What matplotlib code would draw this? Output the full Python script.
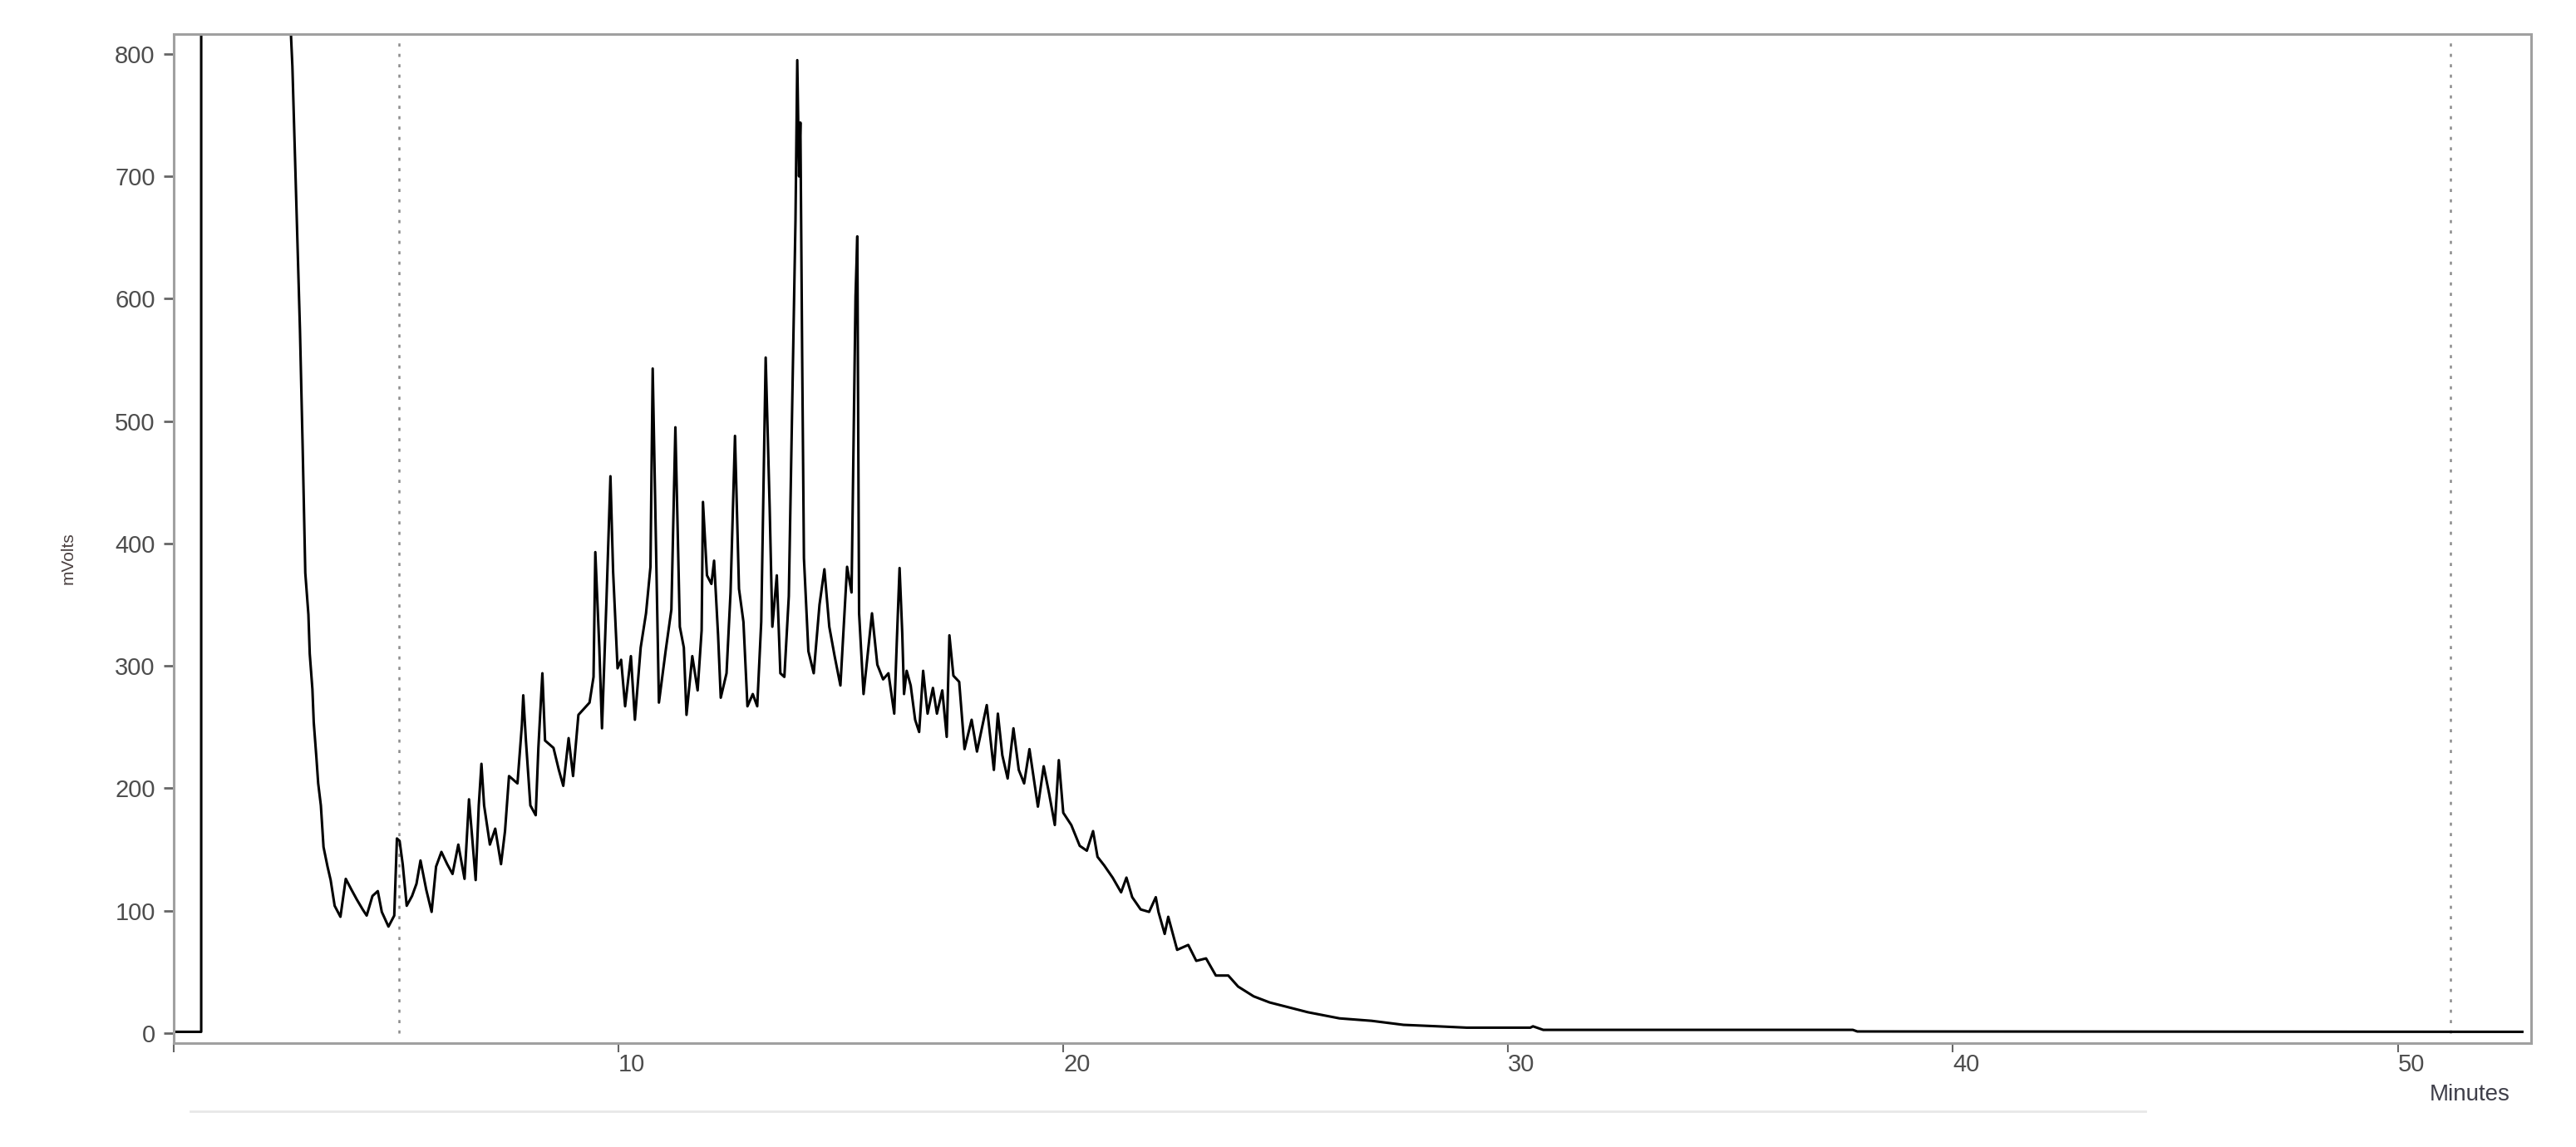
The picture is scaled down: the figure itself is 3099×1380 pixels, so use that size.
import matplotlib.pyplot as plt
import matplotlib.transforms as mtransforms
from matplotlib.lines import Line2D

# retention time (min) and detector response (mV) in segments
solvent_time = [0.0, 0.62, 0.62, 2.56, 2.62, 2.67, 2.75, 2.84, 2.90, 2.94, 2.96, 3.03, 3.06,
                3.12, 3.15, 3.21, 3.25, 3.31, 3.37, 3.46, 3.53, 3.62, 3.75]
solvent_mv = [1, 1, 1500, 1500, 830, 790, 690, 575, 480, 410, 376, 342, 310,
              281, 254, 225, 204, 186, 152, 136, 125, 104, 95]

early_time = [3.87, 4.00, 4.12, 4.25, 4.34, 4.47, 4.59, 4.68, 4.83, 4.96, 5.02, 5.08, 5.15,
              5.24, 5.36, 5.46, 5.55, 5.68, 5.80, 5.90, 6.02, 6.15, 6.27, 6.40, 6.54, 6.64,
              6.70, 6.79, 6.86, 6.92, 6.98, 7.11, 7.23, 7.36, 7.45, 7.54, 7.73, 7.83, 7.86,
              7.92, 8.02, 8.14, 8.20, 8.29, 8.35, 8.54, 8.66, 8.76, 8.88, 8.98, 9.10, 9.35]
early_mv = [126, 117, 109, 101, 96, 112, 116, 99, 87, 96, 159, 157, 138,
            104, 112, 122, 141, 117, 99, 136, 148, 138, 130, 154, 126, 191,
            165, 125, 186, 220, 186, 154, 167, 138, 165, 210, 204, 252, 276,
            239, 186, 178, 233, 294, 239, 233, 215, 202, 241, 210, 260, 270]

hump_time = [9.44, 9.48, 9.57, 9.63, 9.73, 9.82, 9.88, 9.98, 10.06, 10.15, 10.28, 10.37,
             10.50, 10.62, 10.72, 10.77, 10.84, 10.91, 11.06, 11.19, 11.28, 11.38, 11.47,
             11.53, 11.66, 11.78, 11.87, 11.90, 11.99, 12.09, 12.15, 12.24, 12.30, 12.43,
             12.52, 12.62, 12.71, 12.81, 12.90, 13.02, 13.12, 13.21, 13.31, 13.40, 13.46,
             13.56, 13.64, 13.73, 13.83, 13.92, 13.98, 14.02, 14.06, 14.09, 14.13, 14.17,
             14.27, 14.39, 14.52, 14.63, 14.74, 14.86, 14.99, 15.14, 15.24, 15.33, 15.37,
             15.41, 15.51, 15.70, 15.82, 15.95, 16.07]
hump_mv = [291, 393, 315, 249, 353, 455, 377, 298, 305, 267, 308, 256,
           315, 343, 381, 543, 408, 270, 312, 346, 495, 332, 315,
           260, 308, 280, 329, 434, 374, 367, 386, 325, 274, 294,
           360, 488, 363, 336, 267, 277, 267, 336, 552, 429, 332,
           374, 294, 291, 357, 543, 664, 795, 700, 744, 554, 388,
           312, 294, 350, 379, 332, 308, 284, 381, 360, 602, 651,
           343, 277, 343, 301, 289, 294]

tail_time = [16.20, 16.26, 16.32, 16.38, 16.42, 16.48, 16.57, 16.67, 16.76, 16.85, 16.95,
             17.07, 17.16, 17.28, 17.38, 17.44, 17.53, 17.66, 17.78, 17.94, 18.06, 18.28,
             18.44, 18.53, 18.63, 18.75, 18.88, 19.00, 19.12, 19.24, 19.43, 19.56, 19.68,
             19.81, 19.90, 20.00, 20.18, 20.37, 20.53, 20.67, 20.77, 20.92, 21.11, 21.30,
             21.42, 21.55, 21.74, 21.93, 22.08]
tail_mv = [261, 322, 380, 327, 277, 296, 284, 256, 246, 296, 261,
           282, 261, 280, 242, 325, 292, 287, 232, 256, 230, 268,
           215, 261, 227, 208, 249, 215, 204, 232, 185, 218, 196,
           170, 223, 180, 170, 153, 149, 165, 144, 137, 127, 115,
           127, 111, 101, 99, 111]

baseline_time = [22.14, 22.28, 22.36, 22.56, 22.81, 22.99, 23.21, 23.43, 23.71, 23.93, 24.28,
                 24.64, 25.07, 25.50, 26.21, 26.93, 27.65, 28.36, 29.07, 30.50, 30.56, 30.79,
                 37.75, 37.85, 52.80]
baseline_mv = [99, 81, 95, 68, 72, 59, 61, 47, 47, 38, 30,
               25, 21, 17, 12, 10, 6.7, 5.6, 4.4, 4.4, 5.5, 2.6,
               2.6, 1.3, 1.0]

# integration window markers (min)
window_marks = [5.06, 51.19]

x_ticks = [0, 10, 20, 30, 40, 50]
x_tick_labels = ['', '10', '20', '30', '40', '50']
y_ticks = [0, 100, 200, 300, 400, 500, 600, 700, 800]

time = solvent_time + early_time + hump_time + tail_time + baseline_time
signal = solvent_mv + early_mv + hump_mv + tail_mv + baseline_mv

plt.rcParams['font.family'] = ['Liberation Sans', 'DejaVu Sans']

fig = plt.figure(figsize=(30.99, 13.80), dpi=100)
ax = fig.add_axes([0.0674, 0.0906, 0.9152, 0.8797])

ax.vlines(window_marks, 0, 812, colors='#8c8c8c', linestyles=(0, (1.5, 3.5)), linewidth=1.8)
ax.plot(time, signal, color='black', linewidth=2.2)

ax.set_xlim(0, 53.0)
ax.set_ylim(-8.2, 816.3)

ax.set_xticks(x_ticks)
ax.set_xticklabels(x_tick_labels)
ax.set_yticks(y_ticks)
plt.setp(ax.get_xticklabels(), ha='left')

# labels sit just right of their tick, like the instrument software draws them
offset = mtransforms.ScaledTranslation(0.03, 0, fig.dpi_scale_trans)
for label in ax.get_xticklabels():
    label.set_transform(label.get_transform() + offset)

ax.tick_params(axis='x', direction='out', length=8, width=1.5, color='#666666',
               labelsize=21, labelcolor='#4d4d4d', pad=1)
ax.tick_params(axis='y', direction='out', length=9, width=2, color='#666666',
               labelsize=21, labelcolor='#4d4d4d', pad=7)

for spine in ax.spines.values():
    spine.set_color('#a0a0a0')
    spine.set_linewidth(2.2)

fig.text(0.0265, 0.513, 'mVolts', rotation=90, ha='center', va='center',
         fontsize=15, color='#4a4040')
fig.text(0.9587, 0.0457, 'Minutes', ha='center', va='center',
         fontsize=20, color='#3f3f4a')

# faint scroll bar line under the chart
fig.add_artist(Line2D([0.074, 0.833], [0.0312, 0.0312], color='#e8e8e8', linewidth=2))

fig.savefig('out.png', dpi=100)
